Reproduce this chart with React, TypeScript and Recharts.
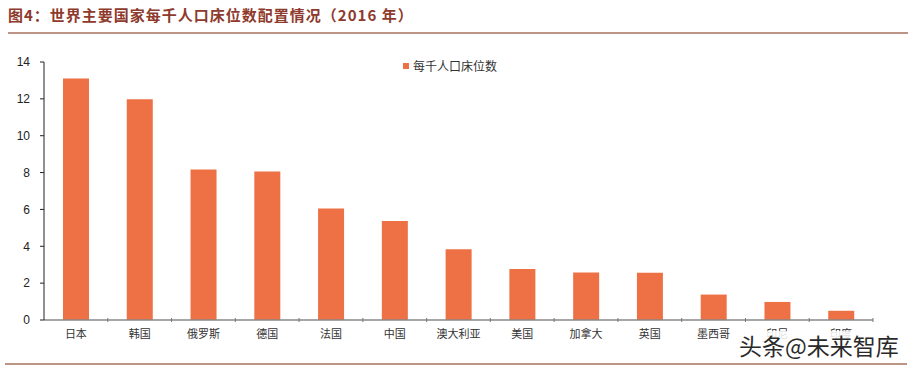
import React from "react";
import { BarChart, Bar, XAxis, YAxis } from "recharts";

const countries = ["日本", "韩国", "俄罗斯", "德国", "法国", "中国", "澳大利亚", "美国", "加拿大", "英国", "墨西哥", "印尼", "印度"];
const beds = [13.1, 11.98, 8.16, 8.06, 6.05, 5.37, 3.84, 2.77, 2.58, 2.57, 1.38, 0.98, 0.5];
const yTicks = [0, 2, 4, 6, 8, 10, 12, 14];
const seriesName = "每千人口床位数";
const title = "图4：世界主要国家每千人口床位数配置情况（2016 年）";
const watermark = "头条@未来智库";

const data = countries.map((c, i) => ({ name: c, value: beds[i] }));

const W = 916;
const H = 366;
const PLOT_LEFT = 44;
const PLOT_RIGHT = 873;
const STEP = (PLOT_RIGHT - PLOT_LEFT) / countries.length;

const XTick = (props: any) => {
  const { x, y, payload } = props;
  return (
    <g>
      <line x1={x + STEP / 2} x2={x + STEP / 2} y1={y - 4} y2={y} stroke="#777" strokeWidth={1} />
      <text x={x} y={y + 16} textAnchor="middle" fontSize={11} fill="#333" fontFamily="'Noto Sans CJK SC', sans-serif">
        {payload.value}
      </text>
    </g>
  );
};

export default function App() {
  return (
    <div style={{ position: "absolute", left: 0, top: 0, width: W, height: H, background: "#fff", overflow: "hidden" }}>
      <div
        style={{
          position: "absolute",
          left: 8,
          top: 5,
          fontSize: 15,
          fontWeight: 700,
          letterSpacing: 1,
          color: "#8E3A2C",
          fontFamily: "'Noto Sans CJK SC', sans-serif",
          whiteSpace: "nowrap",
          lineHeight: "20px",
        }}
      >
        {title}
      </div>
      <div style={{ position: "absolute", left: 8, top: 32, width: 900, height: 2, background: "#BE9486" }} />
      <div style={{ position: "absolute", left: 5, top: 363, width: 902, height: 2, background: "#BE9486" }} />
      <div style={{ position: "absolute", left: 0, top: 0 }}>
        <BarChart
          width={W}
          height={H}
          data={data}
          margin={{ top: 62, right: W - PLOT_RIGHT, bottom: 0, left: 0 }}
          barCategoryGap={0}
        >
          <XAxis
            dataKey="name"
            interval={0}
            tickLine={false}
            axisLine={{ stroke: "#888", strokeWidth: 1.5 }}
            tick={<XTick />}
            tickSize={0}
            height={46}
          />
          <YAxis
            width={PLOT_LEFT}
            domain={[0, 14]}
            ticks={yTicks}
            interval={0}
            axisLine={{ stroke: "#222", strokeWidth: 1 }}
            tickLine={{ stroke: "#222" }}
            tickSize={4}
            tick={{ fontSize: 12, fill: "#222", fontFamily: "'Liberation Sans', Arial, sans-serif", dx: -8 }}
          />
          <Bar dataKey="value" name={seriesName} fill="#EE7045" barSize={26} isAnimationActive={false} />
        </BarChart>
      </div>
      <div
        style={{
          position: "absolute",
          left: 403,
          top: 57,
          display: "flex",
          alignItems: "center",
          fontFamily: "'Noto Sans CJK SC', sans-serif",
          fontSize: 12,
          lineHeight: "18px",
          color: "#333",
          whiteSpace: "nowrap",
        }}
      >
        <span style={{ display: "inline-block", width: 6, height: 6, background: "#EE7045", marginRight: 4 }} />
        {seriesName}
      </div>
      <div
        style={{
          position: "absolute",
          left: 737,
          top: 331,
          fontSize: 23,
          color: "#2a2a2a",
          fontFamily: "'Noto Sans CJK SC', sans-serif",
          whiteSpace: "nowrap",
          lineHeight: "28px",
          background: "rgba(255,255,255,0.85)",
          padding: "0 2px",
        }}
      >
        {watermark}
      </div>
    </div>
  );
}
